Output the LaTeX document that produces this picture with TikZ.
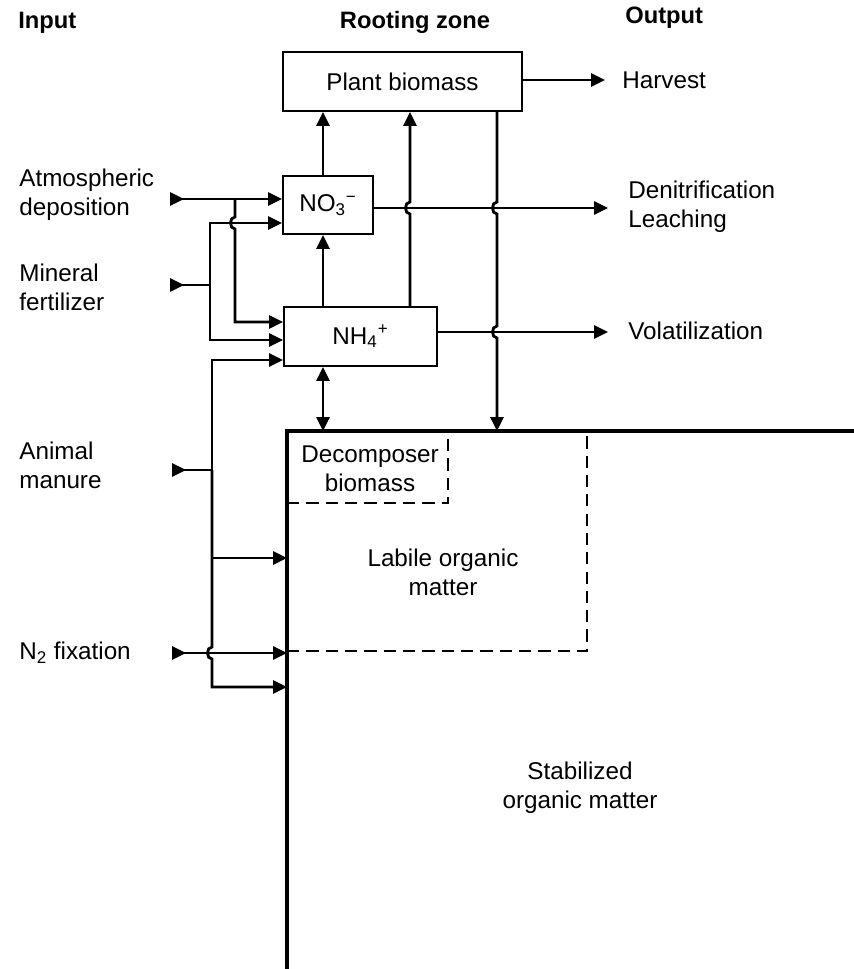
\documentclass[tikz,border=0pt]{standalone}
\usepackage{fontspec}
\setmainfont{Liberation Sans}
\usetikzlibrary{arrows.meta}

\begin{document}
\begin{tikzpicture}[x=0.02cm, y=-0.02cm,
    font=\fontsize{13.8}{16.5}\selectfont,
    >={Triangle[length=0.28cm, width=0.26cm]},
    box/.style={draw, line width=1.1pt, inner sep=0pt},
    hdr/.style={font=\fontsize{13.5}{15}\selectfont\bfseries, inner sep=0pt},
    lbl/.style={align=left, anchor=west, inner sep=0pt},
    pool/.style={align=center, inner sep=0pt},
    line/.style={line width=1.6pt},
    wall/.style={line width=1.9pt},
    part/.style={line width=1.2pt, dash pattern=on 7pt off 4pt}]
    \useasboundingbox (0,0) rectangle (854,969);

    % column headings
    \node[hdr, anchor=west] (input) at (18,23) {Input};
    \node[hdr] (rooting) at (415,22) {Rooting zone};
    \node[hdr, anchor=west] (output) at (625,18) {Output};

    % rooting zone pools
    \node[box, minimum width=4.78cm, minimum height=1.18cm] (plant) at (402.5,81.5) {Plant biomass};
    \node[box, minimum width=1.8cm, minimum height=1.16cm] (no3) at (328,205) {NO\textsubscript{3}\textsuperscript{−}};
    \node[box, minimum width=3.06cm, minimum height=1.18cm] (nh4) at (360.5,336.5) {NH\textsubscript{4}\textsuperscript{+}};

    % soil organic matter
    \coordinate (soil) at (287,431);
    \draw[wall] (287,969) -- (soil) -- (854,431);
    \draw[part] (soil |- 0,503) -- (448,503) -- (448,431);
    \draw[part] (soil |- 0,651) -- (587,651) -- (587,431);
    \node[pool] (decomp) at (370,469) {Decomposer\\biomass};
    \node[pool] (labile) at (443,572) {Labile organic\\matter};
    \node[pool] (stable) at (580,788) {Stabilized\\organic matter};

    % inputs
    \node[lbl] (atm) at (19,195) {Atmospheric\\deposition};
    \node[lbl] (mineral) at (19,287) {Mineral\\fertilizer};
    \node[lbl] (manure) at (19,465) {Animal\\manure};
    \node[lbl] (fix) at (19,653) {N\textsubscript{2} fixation};
    \coordinate (atmS) at (170,199);
    \coordinate (minS) at (170,285);
    \coordinate (manS) at (172,470);
    \coordinate (fixS) at (172,653);

    % outputs
    \node[lbl] (harvest) at (622,80) {Harvest};
    \node[lbl] (denit) at (628,207) {Denitrification\\Leaching};
    \node[lbl] (volat) at (628,331) {Volatilization};

    % input connectors
    \draw[line, >->] (atmS) -- (no3.west |- atmS);
    \draw[line, ->] (235,199) -- (235,217) .. controls (229,217) and (229,229) .. (235,229)
        |- (nh4.west |- 0,322);
    \draw[line, >-] (minS) -- (210,285);
    \draw[line, ->] (210,285) |- (no3.west |- 0,223);
    \draw[line, ->] (210,285) |- (nh4.west |- 0,340);
    \draw[line, >-] (manS) -- (212,470);
    \draw[line, ->] (212,470) |- (nh4.west |- 0,360);
    \draw[line, ->] (212,470) |- (soil |- 0,558);
    \draw[line, ->] (212,470) -- (212,647) .. controls (206,647) and (206,659) .. (212,659)
        |- (soil |- 0,687);
    \draw[line, >->] (fixS) -- (soil |- fixS);

    % transfers within the rooting zone
    \draw[line, ->] (no3.north -| 323,0) -- (plant.south -| 323,0);
    \draw[line, ->] (nh4.north -| 323,0) -- (no3.south -| 323,0);
    \draw[line, <->] (nh4.south -| 323,0) -- (soil -| 323,0);
    \draw[line, ->] (nh4.north -| 410,0) -- (410,214) .. controls (404,214) and (404,202) .. (410,202)
        -- (plant.south -| 410,0);
    \draw[line, ->] (plant.south -| 497,0) -- (497,202) .. controls (491,202) and (491,214) .. (497,214)
        -- (497,326) .. controls (491,326) and (491,338) .. (497,338) -- (soil -| 497,0);

    % output connectors
    \draw[line, ->] (plant.east |- harvest.west) -- ([xshift=-0.34cm]harvest.west);
    \draw[line, ->] (no3.east |- 0,208) -- (608,208);
    \draw[line, ->] (nh4.east |- 0,332) -- (608,332);
\end{tikzpicture}
\end{document}
